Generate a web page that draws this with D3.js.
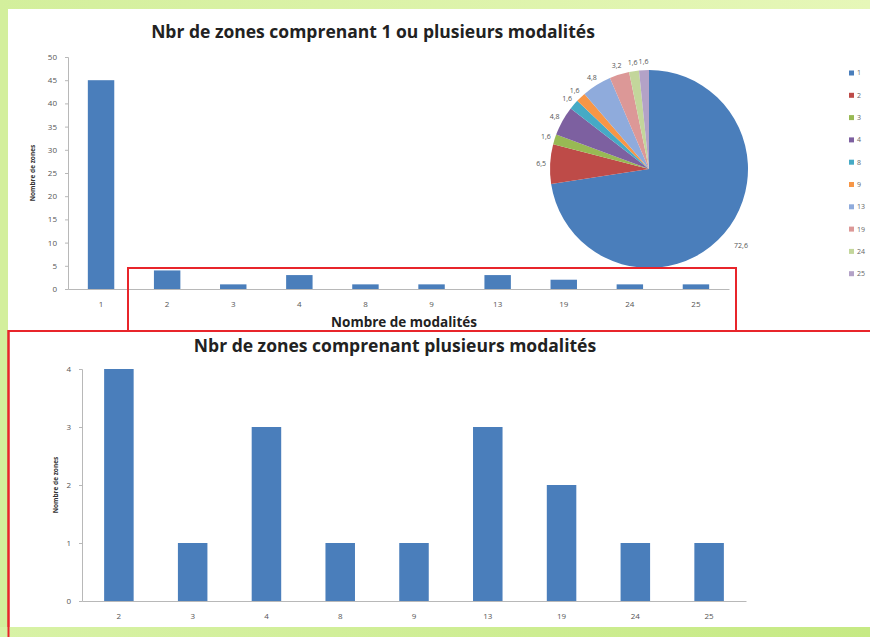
<!DOCTYPE html>
<html>
<head>
<meta charset="utf-8">
<script src="https://cdn.jsdelivr.net/npm/d3@7"></script>
<style>
  html, body { margin: 0; padding: 0; background: #d3ef9c; }
  svg { display: block; }
  text { font-family: "Open Sans", Lato, sans-serif; }
</style>
</head>
<body>
<svg id="chart" width="870" height="637"></svg>
<script>
// ---- data ----
const modalites = ["1", "2", "3", "4", "8", "9", "13", "19", "24", "25"];
const nbZones = [45, 4, 1, 3, 1, 1, 3, 2, 1, 1];
const pieLabels = ["72,6", "6,5", "1,6", "4,8", "1,6", "1,6", "4,8", "3,2", "1,6", "1,6"];
const yTicksTop = [0, 5, 10, 15, 20, 25, 30, 35, 40, 45, 50];
const yTicksBottom = [0, 1, 2, 3, 4];
const modalitesPlus = modalites.slice(1);
const nbZonesPlus = nbZones.slice(1);
const pieColors = ["#4a7ebb", "#be4b48", "#98b954", "#7d60a0", "#46aac5", "#f79646",
                   "#8fabdc", "#dc9897", "#c3d69b", "#b3a2c7"];
const barColor = "#4a7ebb";
const titleTop = "Nbr de zones comprenant 1 ou plusieurs modalités";
const titleBottom = "Nbr de zones comprenant plusieurs modalités";
const yTitle = "Nombre de zones";
const xTitle = "Nombre de modalités";

const svg = d3.select("#chart");

// background panel
const defs = svg.append("defs");
const g1 = defs.append("linearGradient").attr("id", "topg").attr("x1", 0).attr("y1", 0).attr("x2", 1).attr("y2", 0);
g1.append("stop").attr("offset", "0%").attr("stop-color", "#d3ef9c");
g1.append("stop").attr("offset", "100%").attr("stop-color", "#e6f7b8");
svg.append("rect").attr("x", 0).attr("y", 0).attr("width", 870).attr("height", 10).attr("fill", "url(#topg)");
svg.append("rect").attr("x", 8).attr("y", 9).attr("width", 862).attr("height", 618).attr("fill", "#ffffff");

const axisColor = "#b8b8b8";
const tickTextColor = "#555";

function styleAxis(g) {
  g.selectAll("path").attr("stroke", axisColor);
  g.selectAll("line").attr("stroke", axisColor);
  g.selectAll("text").attr("fill", tickTextColor).attr("font-size", 8);
}

// ---------- top bar chart ----------
const topBox = { x0: 68, x1: 729, y0: 289, y1: 57 };
const xTop = d3.scaleBand().domain(modalites).range([topBox.x0, topBox.x1]).paddingInner(0.6).paddingOuter(0.3);
const yTop = d3.scaleLinear().domain([0, 50]).range([topBox.y0, topBox.y1]);

svg.append("g").attr("transform", `translate(0,${topBox.y0})`)
  .call(d3.axisBottom(xTop).tickSize(0).tickPadding(12))
  .call(styleAxis);
svg.append("g").attr("transform", `translate(${topBox.x0},0)`)
  .call(d3.axisLeft(yTop).tickValues(yTicksTop).tickFormat(d3.format("d")).tickSize(3).tickPadding(8))
  .call(styleAxis);

svg.append("g").selectAll("rect").data(modalites).join("rect")
  .attr("x", d => xTop(d))
  .attr("width", xTop.bandwidth())
  .attr("y", (d, i) => yTop(nbZones[i]))
  .attr("height", (d, i) => yTop(0) - yTop(nbZones[i]))
  .attr("fill", barColor);

svg.append("text").attr("x", 373).attr("y", 38).attr("text-anchor", "middle")
  .attr("font-size", 17.5).attr("font-weight", "bold").attr("fill", "#222").text(titleTop);
svg.append("text").attr("x", 404).attr("y", 327).attr("text-anchor", "middle")
  .attr("font-size", 13.5).attr("font-weight", "bold").attr("fill", "#222").text(xTitle);
svg.append("text").attr("transform", `translate(35,173) rotate(-90)`).attr("text-anchor", "middle")
  .attr("font-size", 6.5).attr("font-weight", "bold").attr("fill", "#333").text(yTitle);

// ---------- pie ----------
const cx = 649, cy = 169, r = 99;
const pie = d3.pie().sort(null).value(d => d)(nbZones);
const arc = d3.arc().innerRadius(0).outerRadius(r);
const pg = svg.append("g").attr("transform", `translate(${cx},${cy})`);
pg.selectAll("path").data(pie).join("path")
  .attr("d", arc).attr("fill", (d, i) => pieColors[i]);
const labelArc = d3.arc().innerRadius(r + 9).outerRadius(r + 9);
pg.selectAll("text").data(pie).join("text")
  .attr("transform", (d, i) => {
    const c = labelArc.centroid(d);
    if (i === 0) { c[0] = 92; c[1] = 77; }
    return `translate(${c[0]},${c[1]})`;
  })
  .attr("text-anchor", "middle")
  .attr("dy", "0.35em")
  .attr("font-size", 7).attr("fill", "#555")
  .text((d, i) => pieLabels[i]);

// legend
const lg = svg.append("g");
modalites.forEach((m, i) => {
  const y = 73 + i * 22.3;
  lg.append("rect").attr("x", 849).attr("y", y - 2.5).attr("width", 5).attr("height", 5).attr("fill", pieColors[i]);
  lg.append("text").attr("x", 857).attr("y", y).attr("dy", "0.35em")
    .attr("font-size", 7).attr("fill", "#666").text(m);
});

// red highlight box on top chart
svg.append("rect").attr("x", 128).attr("y", 268).attr("width", 608).attr("height", 63)
  .attr("fill", "none").attr("stroke", "#e8252b").attr("stroke-width", 2);

// ---------- bottom chart ----------
svg.append("rect").attr("x", 8.5).attr("y", 331).attr("width", 870).attr("height", 320)
  .attr("fill", "none").attr("stroke", "#e8252b").attr("stroke-width", 2);

const botBox = { x0: 82, x1: 746, y0: 601, y1: 369 };
const xBot = d3.scaleBand().domain(modalitesPlus).range([botBox.x0, botBox.x1]).paddingInner(0.6).paddingOuter(0.3);
const yBot = d3.scaleLinear().domain([0, 4]).range([botBox.y0, botBox.y1]);

svg.append("g").attr("transform", `translate(0,${botBox.y0})`)
  .call(d3.axisBottom(xBot).tickSize(0).tickPadding(12))
  .call(styleAxis);
svg.append("g").attr("transform", `translate(${botBox.x0},0)`)
  .call(d3.axisLeft(yBot).tickValues(yTicksBottom).tickFormat(d3.format("d")).tickSize(3).tickPadding(8))
  .call(styleAxis);

svg.append("g").selectAll("rect").data(modalitesPlus).join("rect")
  .attr("x", d => xBot(d))
  .attr("width", xBot.bandwidth())
  .attr("y", (d, i) => yBot(nbZonesPlus[i]))
  .attr("height", (d, i) => yBot(0) - yBot(nbZonesPlus[i]))
  .attr("fill", barColor);

svg.append("text").attr("x", 395).attr("y", 352).attr("text-anchor", "middle")
  .attr("font-size", 17.5).attr("font-weight", "bold").attr("fill", "#222").text(titleBottom);
svg.append("text").attr("transform", `translate(58,485) rotate(-90)`).attr("text-anchor", "middle")
  .attr("font-size", 6.5).attr("font-weight", "bold").attr("fill", "#333").text(yTitle);

// bottom green strip
const g2 = defs.append("linearGradient").attr("id", "botg").attr("x1", 0).attr("y1", 0).attr("x2", 1).attr("y2", 0);
g2.append("stop").attr("offset", "0%").attr("stop-color", "#d8f2a6");
g2.append("stop").attr("offset", "100%").attr("stop-color", "#c6ea84");
svg.append("rect").attr("x", 0).attr("y", 627).attr("width", 870).attr("height", 10).attr("fill", "url(#botg)");
svg.append("line").attr("x1", 8.5).attr("x2", 8.5).attr("y1", 330).attr("y2", 637)
  .attr("stroke", "#e8252b").attr("stroke-width", 2);
</script>
</body>
</html>
